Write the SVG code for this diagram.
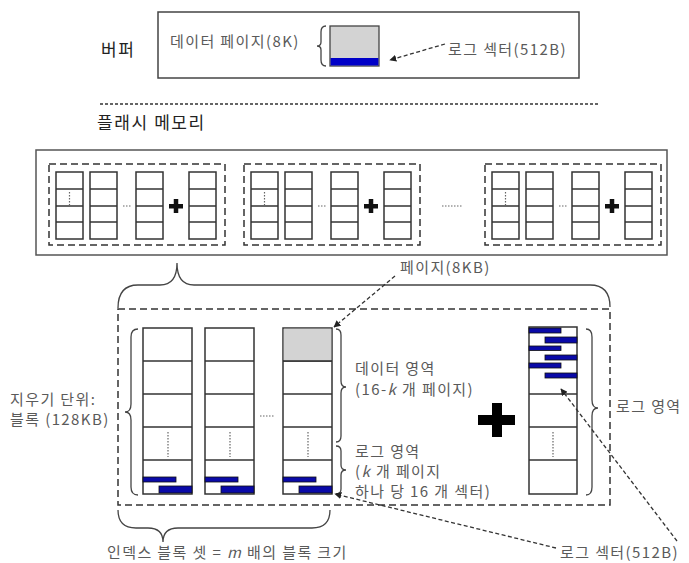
<svg xmlns="http://www.w3.org/2000/svg" width="689" height="563" viewBox="0 0 689 563">
<style>
text{font-family:"Noto Sans CJK KR","Noto Sans",sans-serif;font-size:15px;letter-spacing:1.4px;fill:#5a5a5a}
.dark{fill:#222;font-size:17px;letter-spacing:1.6px}
.box{fill:none;stroke:#444;stroke-width:1.5}
.grp{fill:none;stroke:#333;stroke-width:1.5;stroke-dasharray:7,4}
.cell{fill:#fff;stroke:#333;stroke-width:1.5}
.div{stroke:#333;stroke-width:1.5}
.dots{stroke:#666;stroke-width:1.2;stroke-dasharray:1.5,1.5}
.brace{fill:none;stroke:#444;stroke-width:1.3}
.blue{fill:#0a0aa8;stroke:#111;stroke-width:0.8}
.arr{fill:none;stroke:#333;stroke-width:1.3;stroke-dasharray:4,2.5;marker-end:url(#ah)}
</style>
<defs>
<marker id="ah" viewBox="0 0 10 10" refX="9" refY="5" markerWidth="7" markerHeight="7" orient="auto" markerUnits="userSpaceOnUse">
<path d="M0,0 L10,5 L0,10 z" fill="#222"/>
</marker>
<g id="col">
<rect class="cell" x="0" y="0" width="27" height="67"/>
<line class="div" x1="0" y1="17" x2="27" y2="17"/>
<line class="div" x1="0" y1="34" x2="27" y2="34"/>
<line class="div" x1="0" y1="50" x2="27" y2="50"/>
</g>
<g id="grp">
<rect class="grp" x="0" y="0" width="176" height="81"/>
<use href="#col" x="7" y="8"/>
<use href="#col" x="41" y="8"/>
<use href="#col" x="87" y="8"/>
<use href="#col" x="140" y="8"/>
<line class="dots" x1="20.5" y1="28" x2="20.5" y2="41"/>
<line class="dots" x1="74" y1="42" x2="82" y2="42"/>
<rect x="120" y="40" width="14" height="4.5" fill="#111"/>
<rect x="124.75" y="35" width="4.5" height="14" fill="#111"/>
</g>
<g id="lcol">
<rect class="cell" x="0" y="0" width="49" height="166"/>
<line class="div" x1="0" y1="33" x2="49" y2="33"/>
<line class="div" x1="0" y1="66" x2="49" y2="66"/>
<line class="div" x1="0" y1="99" x2="49" y2="99"/>
<line class="div" x1="0" y1="132" x2="49" y2="132"/>
<line class="dots" x1="25" y1="104" x2="25" y2="129"/>
<rect class="blue" x="0" y="149" width="33" height="5"/>
<rect class="blue" x="16" y="158" width="33" height="7"/>
</g>
</defs>

<g id="buffer">
<text class="dark" x="101" y="56">버퍼</text>
<rect class="box" x="158" y="12" width="421" height="66" stroke="#333"/>
<text x="170" y="47">데이터 페이지(8K)</text>
<path class="brace" d="M326,26 Q321,26 321,32 L321,42 Q321,46 317,46 Q321,46 321,50 L321,60 Q321,66 326,66"/>
<rect x="330" y="26" width="49" height="40" fill="#d3d3d3" stroke="#444" stroke-width="1.3"/>
<rect x="330.6" y="58" width="47.8" height="7.5" fill="#0000c8"/>
<text x="448" y="55">로그 섹터(512B)</text>
</g>

<line x1="100" y1="104" x2="600" y2="104" stroke="#333" stroke-width="1.3" stroke-dasharray="3,2"/>

<g id="flash">
<text class="dark" x="97" y="129">플래시 메모리</text>
<rect x="36" y="150" width="631" height="105" fill="none" stroke="#555" stroke-width="1.5"/>
<use href="#grp" x="49" y="164"/>
<use href="#grp" x="244" y="164"/>
<use href="#grp" x="485" y="164"/>
<line class="dots" x1="442" y1="206" x2="462" y2="206"/>
</g>

<g id="bigbrace">
<path class="brace" d="M118,308 Q118,285 138,285 L160,285 Q177,285 177,263 Q177,285 194,285 L590,285 Q610,285 610,307"/>
</g>

<g id="block">
<rect class="grp" x="118" y="309" width="492" height="196"/>
<path class="brace" d="M138,329 Q131,329 131,337 L131,404 Q131,412 125,412 Q131,412 131,420 L131,487 Q131,495 138,495"/>
<use href="#lcol" x="143" y="328"/>
<use href="#lcol" x="205" y="328"/>
<use href="#lcol" x="283" y="328"/>
<rect x="283.75" y="328.75" width="47.5" height="32" fill="#d3d3d3"/>
<line class="div" x1="283" y1="361" x2="332" y2="361"/>
<line class="dots" x1="260" y1="416" x2="274" y2="416"/>
<path class="brace" d="M336,329 Q341,329 341,335 L341,381 Q341,387 346,387 Q341,387 341,393 L341,436 Q341,442 336,442"/>
<path class="brace" d="M336,446 Q341,446 341,451 L341,465 Q341,470 346,470 Q341,470 341,475 L341,489 Q341,494 336,494"/>
<text x="355" y="374">데이터 영역</text>
<text x="355" y="395">(16-<tspan font-style="italic">k</tspan> 개 페이지)</text>
<text x="355" y="457">로그 영역</text>
<text x="355" y="477">(<tspan font-style="italic">k</tspan> 개 페이지</text>
<text x="355" y="497">하나 당 16 개 섹터)</text>
<rect x="478" y="415" width="37" height="10" fill="#000"/>
<rect x="492" y="403" width="10" height="34" fill="#000"/>
<rect class="cell" x="529" y="327" width="48" height="167"/>
<line class="div" x1="529" y1="394" x2="577" y2="394"/>
<line class="div" x1="529" y1="427" x2="577" y2="427"/>
<line class="div" x1="529" y1="460" x2="577" y2="460"/>
<line class="dots" x1="553" y1="432" x2="553" y2="457"/>
<rect class="blue" x="529" y="328" width="32" height="5"/>
<rect class="blue" x="545" y="337" width="32" height="6"/>
<rect class="blue" x="529" y="346" width="32" height="4.5"/>
<rect class="blue" x="545" y="355" width="32" height="5"/>
<rect class="blue" x="529" y="363" width="32" height="5"/>
<rect class="blue" x="545" y="373" width="32" height="5"/>
<path class="brace" d="M586,329 Q592,329 592,337 L592,400 Q592,408 598,408 Q592,408 592,416 L592,487 Q592,495 586,495"/>
<text x="616" y="412">로그 영역</text>
</g>

<g id="labels">
<text x="400" y="273">페이지(8KB)</text>
<text x="10" y="405">지우기 단위:</text>
<text x="10" y="425">블록 (128KB)</text>
<path class="brace" d="M118,510 Q118,528 136,528 L148,528 Q163,528 163,542 Q163,528 178,528 L312,528 Q330,528 330,510"/>
<text x="107" y="558">인덱스 블록 셋 = <tspan font-style="italic">m</tspan> 배의 블록 크기</text>
<text x="560" y="558">로그 섹터(512B)</text>
</g>

<g id="connectors">
<line class="arr" x1="445" y1="44" x2="390" y2="60"/>
<line class="arr" x1="395" y1="276" x2="334" y2="327"/>
<line class="arr" x1="556" y1="548" x2="335" y2="494"/>
<line class="arr" x1="677" y1="541" x2="561" y2="389"/>
</g>
</svg>
